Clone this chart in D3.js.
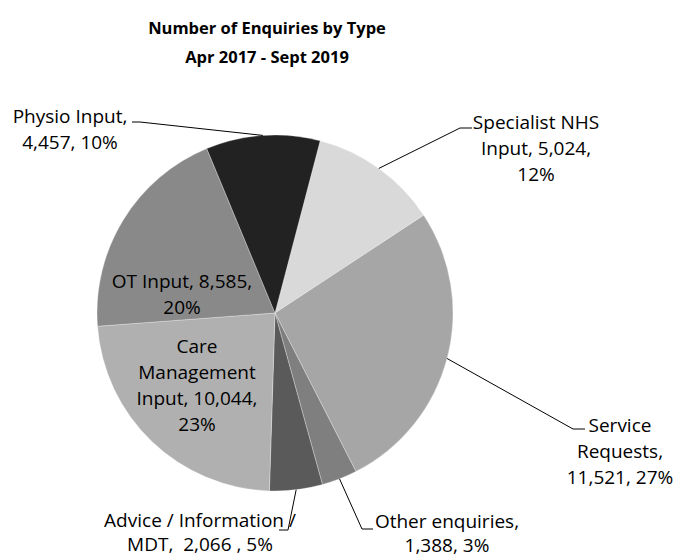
<!DOCTYPE html>
<meta charset="utf-8">
<style>
  body { margin: 0; background: #fff; }
  .title { font-family: "Open Sans", sans-serif; font-weight: bold; font-size: 16.5px; fill: #000; }
  .lbl { font-family: "Open Sans", sans-serif; font-size: 19px; fill: #000; white-space: pre; }
  .leader { fill: none; stroke: #000; stroke-width: 1; }
</style>
<body>
<script src="https://d3js.org/d3.v7.min.js"></script>
<script>

var categories = ["Specialist NHS Input", "Service Requests", "Other enquiries",
                  "Advice / Information / MDT", "Care Management Input", "OT Input", "Physio Input"];
var values = [5024, 11521, 1388, 2066, 10044, 8585, 4457];
var labelLines = [
  ["Specialist NHS", "Input, 5,024,", "12%"],
  ["Service", "Requests,", "11,521, 27%"],
  ["Other enquiries,", "1,388, 3%"],
  ["Advice / Information /", "MDT,  2,066 , 5%"],
  ["Care", "Management", "Input, 10,044,", "23%"],
  ["OT Input, 8,585,", "20%"],
  ["Physio Input,", "4,457, 10%"]
];
var colors = ["#d9d9d9", "#a6a6a6", "#7f7f7f", "#5a5a5a", "#b0b0b0", "#898989", "#222222"];
var titleLines = ["Number of Enquiries by Type", "Apr 2017 - Sept 2019"];

var width = 679, height = 558,
    cx = 275, cy = 313, radius = 178,
    lineH = 26;

// label placement: x = text centre, y = first baseline, pts = leader bend points
var layout = [
  { x: 536, y: 129, pts: [[472, 128], [460, 128]] },
  { x: 620, y: 432, pts: [[585, 429], [573, 429]] },
  { x: 447, y: 528, pts: [[373, 529], [362, 529]] },
  { x: 200, y: 527, pts: [[279, 530], [288, 530]] },
  { x: 197, y: 353 },
  { x: 182, y: 288 },
  { x: 70, y: 123, pts: [[132, 122], [140, 122]] }
];

var svg = d3.select("body").append("svg")
    .attr("width", width)
    .attr("height", height);

svg.selectAll("text.title")
    .data(titleLines)
  .enter().append("text")
    .attr("class", "title")
    .attr("x", 267)
    .attr("y", function(d, i) { return 34 + i * 29; })
    .attr("text-anchor", "middle")
    .text(function(d) { return d; });

var offset = 14.7 * Math.PI / 180;
var pie = d3.pie().sort(null).startAngle(offset).endAngle(offset + 2 * Math.PI);
var arcs = pie(values);

var arc = d3.arc().innerRadius(0).outerRadius(radius);
var edge = d3.arc().innerRadius(radius).outerRadius(radius);

var g = svg.append("g").attr("transform", "translate(" + cx + "," + cy + ")");

g.selectAll("path")
    .data(arcs)
  .enter().append("path")
    .attr("d", arc)
    .attr("fill", function(d, i) { return colors[i]; })
    .attr("stroke", "#fff")
    .attr("stroke-width", 0.5)
    .attr("stroke-opacity", 0.6);

// leader lines
arcs.forEach(function(d, i) {
  var l = layout[i];
  if (!l.pts) return;
  var c = edge.centroid(d);
  var pts = [[cx + c[0], cy + c[1]]].concat(l.pts.slice().reverse());
  svg.append("path")
      .attr("class", "leader")
      .attr("d", d3.line()(pts));
});

// labels
labelLines.forEach(function(lines, i) {
  var l = layout[i];
  var t = svg.append("text")
      .attr("class", "lbl")
      .attr("text-anchor", "middle");
  t.selectAll("tspan")
      .data(lines)
    .enter().append("tspan")
      .attr("x", l.x)
      .attr("y", function(d, j) { return l.y + j * (i === 2 || i === 3 ? 24 : lineH); })
      .text(function(d) { return d; });
});

</script>
</body>
